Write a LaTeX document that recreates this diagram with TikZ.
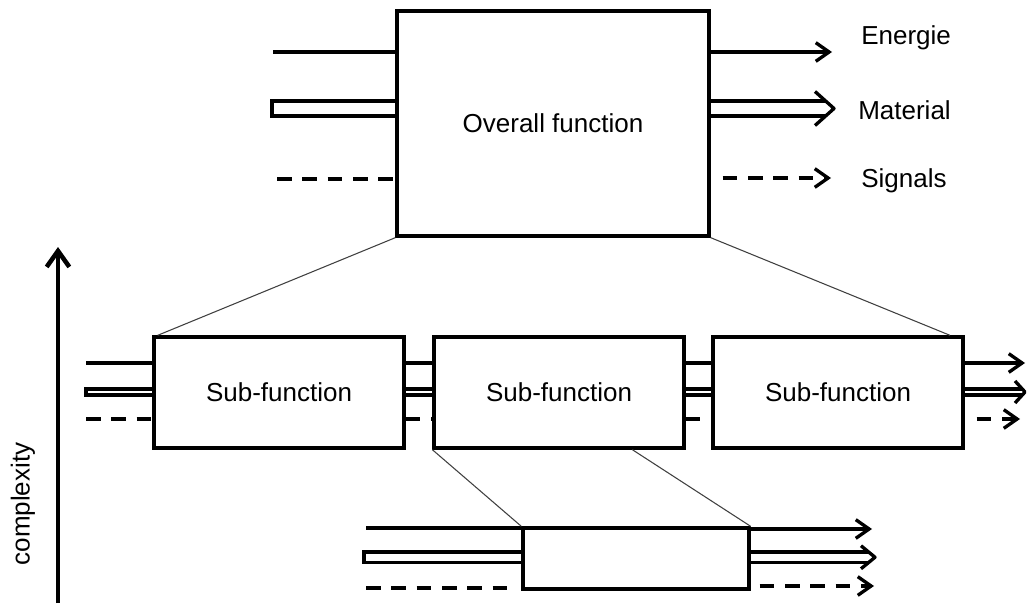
\documentclass[tikz,border=0pt]{standalone}
\usepackage{fontspec}
\setmainfont{Liberation Sans}
\usetikzlibrary{arrows.meta}
\usetikzlibrary{calc}

\tikzset{
  fnbox/.style={draw, line width=2.5pt, inner sep=0pt, font=\fontsize{19.5}{23}\selectfont},
  flow/.style={line width=2.5pt},
  sigflow/.style={flow, dash pattern=on 11pt off 8pt},
  tipbarb/.style={-{Straight Barb[length=10pt,width=14pt]}},
  zoomline/.style={line width=0.8pt, draw=black!75},
  flowlabel/.style={anchor=base west, inner sep=0pt, font=\fontsize{19.5}{23}\selectfont}
}

% material flow, closed on the free end
\newcommand{\matin}[3]{%
  \draw[flow] ($(#2)+(0,-#3)$) -- ($(#1)+(0,-#3)$) -- ($(#1)+(0,#3)$) -- ($(#2)+(0,#3)$);}
% material flow with open head: from, tip, half gap, shaft back, head length, head half width
\newcommand{\matout}[6]{%
  \draw[flow] ($(#1)+(0,-#3)$) -- ($(#2)+(-#4,-#3)$);
  \draw[flow] ($(#1)+(0,#3)$) -- ($(#2)+(-#4,#3)$);
  \draw[flow, line join=round] ($(#2)+(-#5,-#6)$) -- (#2) -- ($(#2)+(-#5,#6)$);}

\begin{document}
\begin{tikzpicture}[x=0.75pt, y=-0.75pt]
	\useasboundingbox (0,0) rectangle (1027,603);

	% functions
	\node[fnbox, minimum width=234pt, minimum height=168.75pt] (ov) at (553,123.5) {Overall function};
	\node[fnbox, minimum width=187.5pt, minimum height=83.25pt] (s1) at (279,392.5) {Sub-function};
	\node[fnbox, minimum width=187.5pt, minimum height=83.25pt] (s2) at (559,392.5) {Sub-function};
	\node[fnbox, minimum width=187.5pt, minimum height=83.25pt] (s3) at (838,392.5) {Sub-function};
	\node[fnbox, minimum width=169.5pt, minimum height=45.75pt] (elem) at (636,558.5) {};

	\node[flowlabel] (lE) at (861,44) {Energie};
	\node[flowlabel] (lM) at (858,119) {Material};
	\node[flowlabel] (lS) at (861,187) {Signals};

	% complexity axis
	\coordinate (cLow) at (58,603);
	\coordinate (cHigh) at (58,247);
	\draw[line width=3.4pt, -{Straight Barb[length=12pt,width=17pt]}] (cLow) -- (cHigh);
	\node[rotate=90, inner sep=0pt, font=\fontsize{19.5}{23}\selectfont] (cLbl) at (23,504) {complexity};

	% overall function
	\coordinate (eIn) at (273,52);
	\coordinate (mIn) at (272,108.5);
	\coordinate (sIn) at (277,179);
	\coordinate (eOut) at (832,52);
	\coordinate (mOut) at (834,108.5);
	\coordinate (sOut) at (831,178);
	\draw[flow] (eIn) -- (eIn -| ov.west);
	\matin{mIn}{mIn -| ov.west}{7.5}
	\draw[sigflow] (sIn) -- (sIn -| ov.west);
	\draw[flow, tipbarb] (eOut -| ov.east) -- (eOut);
	\matout{mOut -| ov.east}{mOut}{7.5}{9}{19}{17}
	\draw[sigflow, tipbarb] ($(sOut -| ov.east)+(12,0)$) -- (sOut);

	% sub-functions
	\coordinate (eIn2) at (86,363);
	\coordinate (mIn2) at (86,392);
	\coordinate (sIn2) at (86,419);
	\coordinate (eOut2) at (1025,363);
	\coordinate (mOut2) at (1025,392);
	\coordinate (sOut2) at (1020,419);
	\draw[flow] (eIn2) -- (eIn2 -| s1.west);
	\matin{mIn2}{mIn2 -| s1.west}{3}
	\draw[sigflow] (sIn2) -- (sIn2 -| s1.west);
	\foreach \a/\b in {s1/s2, s2/s3} {
		\draw[flow] (eIn2 -| \a.east) -- (eIn2 -| \b.west);
		\draw[flow] ($(mIn2 -| \a.east)+(0,-3)$) -- ($(mIn2 -| \b.west)+(0,-3)$);
		\draw[flow] ($(mIn2 -| \a.east)+(0,3)$) -- ($(mIn2 -| \b.west)+(0,3)$);
		\draw[sigflow] (sIn2 -| \a.east) -- (sIn2 -| \b.west);
	}
	\draw[flow, tipbarb] (eOut2 -| s3.east) -- (eOut2);
	\matout{mOut2 -| s3.east}{mOut2}{3}{3}{10}{11}
	\draw[sigflow, tipbarb] ($(sOut2 -| s3.east)+(12,0)$) -- (sOut2);

	% element
	\coordinate (eIn3) at (366,528);
	\coordinate (mIn3) at (364,557.25);
	\coordinate (sIn3) at (366,588);
	\coordinate (eOut3) at (872,529);
	\coordinate (mOut3) at (875,557.25);
	\coordinate (sOut3) at (874,586);
	\draw[flow] (eIn3) -- (eIn3 -| elem.west);
	\matin{mIn3}{mIn3 -| elem.west}{5.25}
	\draw[sigflow] (sIn3) -- ($(sIn3 -| elem.west)+(-10,0)$);
	\draw[flow, tipbarb] (eOut3 -| elem.east) -- (eOut3);
	\matout{mOut3 -| elem.east}{mOut3}{5.25}{6}{14}{11.5}
	\draw[sigflow, tipbarb] ($(sOut3 -| elem.east)+(9,0)$) -- (sOut3);

	% zoom lines
	\draw[zoomline] (ov.south west) -- ([xshift=4pt]s1.north west);
	\draw[zoomline] (ov.south east) -- ([xshift=-11pt]s3.north east);
	\draw[zoomline] (s2.south west) -- (elem.north west);
	\draw[zoomline] ([xshift=-40pt]s2.south east) -- (elem.north east);
\end{tikzpicture}
\end{document}
